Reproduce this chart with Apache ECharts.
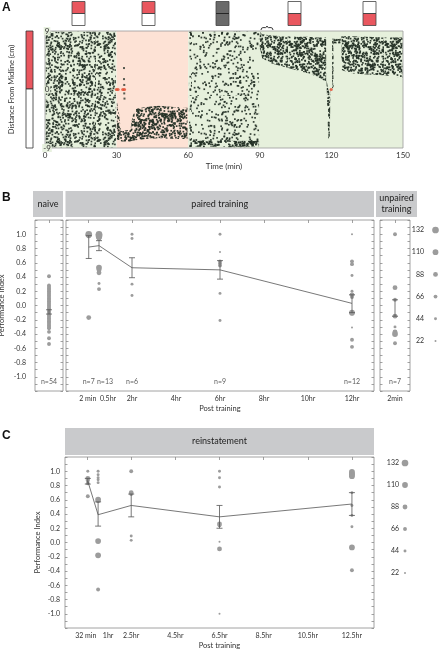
<!DOCTYPE html>
<html><head><meta charset="utf-8">
<script src="https://cdn.jsdelivr.net/npm/echarts@6/dist/echarts.min.js"></script>
<style>html,body{margin:0;padding:0;background:#fff}#c{width:442px;height:649px}</style>
</head><body><div id="c"></div><script>
// ================= DATA =================
// Panel A: fly position over time
const aPhases = [[0,30,'plain'],[30,60,'shock'],[60,150,'plain']];
// envelopes of the dense position cloud: [time (min), lowest cm, highest cm]
const aBandBaseline = [[0.3,-8.9,8.9],[29.7,-8.9,8.9]];
const aBandShock = [[30.1,-7.8,-1.8],[31.0,-7.9,-3.6],[31.8,-8.0,-6.4],[35.8,-8.0,-6.2],[36.6,-7.9,-4.2],[38,-7.8,-3.0],[42,-7.6,-2.7],[48,-7.5,-2.5],[54,-7.6,-2.7],[59.7,-7.6,-2.8]];
const aBandPost = [[60.3,-8.9,8.9],[89.7,-8.9,8.9]];
const aBandFloor = [[60.3,-8.8,-7.9],[89.5,-8.8,-7.9]];
const aBandCeiling = [[60.3,8.2,8.9],[89.5,8.2,8.9]];
const aBandTest1 = [[90.0,6.5,8.9],[91,4.8,8.5],[95,4.0,8.3],[100,3.5,8.2],[105,3.0,8.1],[110,2.5,8.1],[114,2.0,8.0],[117.8,1.2,8.0]];
const aBandDip = [[118.0,0.4,1.4],[118.7,-7.6,0.0],[119.3,-7.6,-0.6],[119.6,-0.2,0.4]];
const aBandRise = [[120.3,0.2,7.8],[120.9,0.2,7.8]];
const aBandHold = [[120.9,7.1,7.8],[124.0,7.1,7.8]];
const aBandTest2 = [[124.2,3.0,8.2],[128,2.5,8.2],[135,2.3,8.1],[142,2.2,8.0],[149.8,1.8,8.0]];
const aLoosePoints = [[33.1,3.3],[33.1,1.6],[33.2,0.7],[33.2,-0.6],[33.3,-1.4]];
const aRedPoints = [[29.9,0],[30.6,0],[32.6,0],[33.3,0],[119.9,0]];

// Panel B: performance index; points [hours post training, PI, flies]
const naiveValues = [0.41,0.28,0.26,0.24,0.22,0.2,0.18,0.16,0.14,0.12,0.1,0.08,0.06,0.04,0.02,0,-0.02,-0.04,-0.06,-0.08,-0.1,-0.12,-0.14,-0.16,-0.18,-0.2,-0.22,-0.24,-0.26,-0.28,-0.3,-0.32,-0.37,-0.46,-0.54];
const naiveFlies = 66;
const naiveMean = [[0,-0.09,-0.12,-0.06]]; // x, mean, lo, hi
const pairedPoints = [
 [0.033,1.0,132],[0.033,0.99,110],[0.033,0.97,66],[0.033,-0.17,88],
 [0.5,1.0,132],[0.5,0.98,132],[0.5,0.96,110],[0.5,0.94,88],[0.5,0.53,110],[0.5,0.5,88],[0.5,0.46,88],[0.5,0.31,44],[0.5,0.23,66],
 [2,1.0,44],[2,0.94,44],[2,0.3,44],[2,0.14,44],
 [6,1.0,44],[6,0.75,22],[6,0.62,66],[6,0.59,66],[6,0.56,66],[6,0.17,44],[6,-0.21,44],
 [12,1.0,22],[12,0.62,66],[12,0.58,66],[12,0.42,44],[12,0.2,44],[12,0.15,88],[12,0.12,66],[12,-0.1,110],[12,-0.11,88],[12,-0.31,22],[12,-0.48,66],[12,-0.58,66]
];
const pairedX = [0.033,0.5,2,6,12];
const pairedMean = [0.82,0.84,0.53,0.50,0.03];
const pairedLo = [0.66,0.77,0.39,0.37,-0.10];
const pairedHi = [0.98,0.91,0.67,0.63,0.15];
const pairedN = ['n=7','n=13','n=6','n=9','n=12'];
const bTickPos = [0.033,0.5,2,4,6,8,10,12];
const bTickText = ['2 min','0.5hr','2hr','4hr','6hr','8hr','10hr','12hr'];
const unpairedPoints = [[0,1.0,66],[0,0.25,88],[0,0.08,66],[0,-0.15,88],[0,-0.3,44],[0,-0.37,88],[0,-0.4,110],[0,-0.53,66]];
const unpairedMean = [[0,-0.04,-0.15,0.08]];
const naiveN = 'n=54', unpairedN = 'n=7';

// Panel C: reinstatement; points [hours, PI, flies]
const reinPoints = [
 [0.533,1.0,44],[0.533,0.9,88],[0.533,0.87,66],[0.533,0.83,66],[0.533,0.65,66],
 [1,1.0,44],[1,0.95,44],[1,0.91,44],[1,0.88,44],[1,0.84,44],[1,0.6,110],[1,0.58,66],[1,0.02,110],[1,-0.18,110],[1,-0.66,66],
 [2.5,1.0,66],[2.5,0.7,88],[2.5,0.68,66],[2.5,0.09,44],[2.5,0.03,44],
 [6.5,1.0,44],[6.5,0.91,44],[6.5,0.78,44],[6.5,0.26,88],[6.5,0.24,66],[6.5,0.01,22],[6.5,-0.09,88],[6.5,-1.0,22],
 [12.5,0.99,110],[12.5,0.97,110],[12.5,0.95,110],[12.5,0.93,110],[12.5,0.7,44],[12.5,0.52,44],[12.5,0.38,44],[12.5,0.22,44],[12.5,-0.07,110],[12.5,-0.39,66]
];
const reinX = [0.533,1,2.5,6.5,12.5];
const reinMean = [0.86,0.39,0.52,0.36,0.54];
const reinLo = [0.82,0.23,0.36,0.20,0.38];
const reinHi = [0.90,0.57,0.68,0.52,0.70];
const cTickPos = [0.533,1,2.5,4.5,6.5,8.5,10.5,12.5];
const cTickText = ['32 min','1hr','2.5hr','4.5hr','6.5hr','8.5hr','10.5hr','12.5hr'];
const sizeLegend = [132,110,88,66,44,22];

// ================= STYLE =================
const FONT = 'Lato, "Open Sans", sans-serif';
const FS = 7;
const DOT = '#9c9c9c', INK = '#333', FRAME = '#8a8a8a', BAR = '#555';
const PHASE_COLORS = {plain:'#e6f0dc', shock:'#fde2d5'};
const RED = '#e9575f';
const sz = n => 2 + (n - 22) * 0.0427;

// dotted texture used to fill the position envelopes (style only)
function makePattern(count, color){
  const W = 96, H = 96, c = document.createElement('canvas');
  c.width = W; c.height = H;
  const ctx = c.getContext('2d'); ctx.fillStyle = color;
  const fr = v => v - Math.floor(v);
  for (let i = 1; i <= count; i++) {
    const x = fr(Math.sin(i * 12.9898) * 43758.5453) * W;
    const y = fr(Math.sin(i * 78.233 + 1.7) * 24634.6345) * H;
    ctx.fillRect(x, y, 1.7, 1.7);
  }
  return {image: c, repeat: 'repeat'};
}
const PAT = {
  mid: makePattern(1500, 'rgba(36,48,38,0.92)'),
  sparse: makePattern(620, 'rgba(36,48,38,0.92)'),
  dense: makePattern(2300, 'rgba(36,48,38,0.95)')
};

function bandSeries(band, density){
  return {type:'custom', xAxisIndex:0, yAxisIndex:0, z:3, silent:true, data:band,
    encode:{x:0, y:[1,2]},
    renderItem:(p, api) => {
      if (p.dataIndex !== 0) return;
      const top = band.map(r => api.coord([r[0], r[2]]));
      const bot = band.slice().reverse().map(r => api.coord([r[0], r[1]]));
      return {type:'polygon', shape:{points: top.concat(bot)}, style:{fill: PAT[density]}};
    }};
}
function errSeries(xi, yi, rows){
  return {type:'custom', xAxisIndex:xi, yAxisIndex:yi, z:6, silent:true, data:rows,
    encode:{x:0, y:[2,3]},
    renderItem:(p, api) => {
      const x = api.value(0), lo = api.value(2), hi = api.value(3), w = 3;
      const a = api.coord([x, hi]), b = api.coord([x, lo]);
      const st = {stroke:BAR, lineWidth:0.8};
      return {type:'group', children:[
        {type:'line', shape:{x1:a[0],y1:a[1],x2:b[0],y2:b[1]}, style:st},
        {type:'line', shape:{x1:a[0]-w,y1:a[1],x2:a[0]+w,y2:a[1]}, style:st},
        {type:'line', shape:{x1:b[0]-w,y1:b[1],x2:b[0]+w,y2:b[1]}, style:st}]};
    }};
}
function dotSeries(xi, yi, pts){
  return {type:'scatter', xAxisIndex:xi, yAxisIndex:yi, z:4, silent:true, data:pts,
    symbolSize: v => sz(v[2]), itemStyle:{color:DOT, opacity:1}};
}
function labelSeries(xi, yi, items){
  return {type:'scatter', xAxisIndex:xi, yAxisIndex:yi, z:7, silent:true, symbolSize:1,
    itemStyle:{color:'rgba(0,0,0,0)'}, data: items,
    label:{show:true, position:'inside', formatter:'{b}', fontSize:FS, color:INK, fontFamily:FONT}};
}
function piY(grid, pos, show, margin, name, nameGap){
  return {type:'value', gridIndex:grid, position:pos, min:-1.2, max:1.2, interval:0.2,
    axisLine:{show:false, onZero:false}, splitLine:{show:false},
    axisTick:{show:true, inside:true, length:2.5, lineStyle:{color:FRAME, width:0.8}},
    minorTick:{show:true, splitNumber:2, length:2.5, lineStyle:{color:FRAME, width:0.8}},
    axisLabel:{show:show, margin:margin, fontSize:FS, color:INK, fontFamily:FONT,
      formatter: v => Math.abs(v) > 1.05 ? '' : (Math.abs(v) < 1e-6 ? '0.0' : v.toFixed(1))},
    name: name || '', nameLocation:'middle', nameRotate:90, nameGap: nameGap || 0, nameMoveOverlap:false,
    nameTextStyle:{fontSize:7.5, color:INK, fontFamily:FONT}};
}
function topTicks(grid, min, max, vals){
  return {type:'value', gridIndex:grid, position:'top', min:min, max:max,
    axisLine:{show:false, onZero:false}, splitLine:{show:false}, axisLabel:{show:false},
    axisTick:{show:true, inside:true, length:3, customValues:vals, lineStyle:{color:FRAME, width:0.8}}};
}
function shifted(text, idx, shifts){
  const s = shifts[idx] || 0;
  if (!s) return text;
  return '{' + (s > 0 ? 'r' : 'l') + Math.abs(s) + '|' + text + '}';
}
function richFor(list){
  const r = {};
  list.forEach(s => { const k = (s > 0 ? 'r' : 'l') + Math.abs(s);
    r[k] = {fontSize:FS, color:INK, fontFamily:FONT, padding: s > 0 ? [0,0,0,2*s] : [0,-2*s,0,0]}; });
  return r;
}
const bShift = [-1,9,0,0,0,0,0,0];
const cShift = [-2,10,0,0,0,0,0,0];
function bottomLabels(grid, min, max, pos, text, shifts, name){
  return {type:'value', gridIndex:grid, position:'bottom', min:min, max:max,
    axisLine:{show:false, onZero:false}, splitLine:{show:false}, axisTick:{show:false},
    axisLabel:{show:true, customValues:pos, hideOverlap:false, margin:4, fontSize:FS, color:INK, fontFamily:FONT,
      formatter: v => { let i = pos.findIndex(p => Math.abs(p - v) < 1e-6); return i < 0 ? '' : shifted(text[i], i, shifts); },
      rich: richFor(shifts.filter(s => s))},
    name: name || '', nameLocation:'middle', nameGap:14, nameTextStyle:{fontSize:7.5, color:INK, fontFamily:FONT}};
}
const gridBase = {show:true, borderColor:FRAME, borderWidth:0.8, backgroundColor:'transparent', containLabel:false, outerBoundsMode:'none', z:10};

const option = {
  animation:false,
  grid:[
    Object.assign({}, gridBase, {left:45, top:31, width:358, height:117, borderColor:'#9a9a9a'}),
    Object.assign({}, gridBase, {left:35, top:220, width:28, height:171}),
    Object.assign({}, gridBase, {left:66, top:220, width:308, height:171}),
    Object.assign({}, gridBase, {left:380, top:220, width:30, height:171}),
    Object.assign({}, gridBase, {left:65, top:457, width:309, height:171})
  ],
  xAxis:[
    {type:'value', gridIndex:0, min:0, max:150, interval:30, axisLine:{show:false, onZero:false}, axisTick:{show:false}, splitLine:{show:false},
     axisLabel:{fontSize:8, color:INK, margin:3, fontFamily:FONT}, name:'Time (min)', nameLocation:'middle', nameGap:14,
     nameTextStyle:{fontSize:8, color:INK, fontFamily:FONT}},
    topTicks(1, -1, 1, [0]),                                              // 1 naive
    bottomLabels(2, -1, 13, bTickPos, bTickText, bShift, 'Post training'), // 2 paired
    topTicks(2, -1, 13, [0,2,4,6,8,10,12]),                               // 3 paired top
    bottomLabels(3, -1, 1, [0], ['2min'], [0], ''),                        // 4 unpaired
    topTicks(3, -1, 1, [0]),                                              // 5 unpaired top
    bottomLabels(4, -0.5, 13.5, cTickPos, cTickText, cShift, 'Post training'), // 6 reinstatement
    topTicks(4, -0.5, 13.5, [0.5,2.5,4.5,6.5,8.5,10.5,12.5])              // 7 reinstatement top
  ],
  yAxis:[
    {type:'value', gridIndex:0, min:-9, max:9, interval:9, z:20, axisLine:{show:false, onZero:false}, axisTick:{show:false}, splitLine:{show:false},
     axisLabel:{fontSize:8, color:INK, margin:-2, align:'center', fontFamily:FONT, backgroundColor:'rgba(230,240,220,0.9)', padding:[0,1]},
     name:'Distance From Midline (cm)', nameLocation:'middle', nameRotate:90, nameGap:29, nameMoveOverlap:false,
     nameTextStyle:{fontSize:7.5, color:INK, fontFamily:FONT}},
    piY(1, 'left', true, 9, 'Performance Index', 29.5),  // 1
    piY(1, 'right', false, 0),                            // 2
    piY(2, 'left', false, 0),                             // 3
    piY(2, 'right', false, 0),                            // 4
    piY(3, 'left', false, 0),                             // 5
    piY(3, 'right', false, 0),                            // 6
    piY(4, 'left', true, 5, 'Performance Index', 23),     // 7
    piY(4, 'right', false, 0)                             // 8
  ],
  series:[
    {type:'custom', xAxisIndex:0, yAxisIndex:0, z:1, silent:true, data: aPhases.map(r => [r[0], r[1]]),
     renderItem:(p, api) => {
       const a = api.coord([api.value(0), 9]), b = api.coord([api.value(1), -9]);
       return {type:'rect', shape:{x:a[0], y:a[1], width:b[0]-a[0], height:b[1]-a[1]},
         style:{fill: PHASE_COLORS[aPhases[p.dataIndex][2]]}};
     }},
    bandSeries(aBandBaseline, 'mid'),
    bandSeries(aBandShock, 'dense'),
    bandSeries(aBandPost, 'sparse'),
    bandSeries(aBandFloor, 'dense'),
    bandSeries(aBandCeiling, 'sparse'),
    bandSeries(aBandTest1, 'dense'),
    bandSeries(aBandDip, 'dense'),
    bandSeries(aBandRise, 'dense'),
    bandSeries(aBandHold, 'dense'),
    bandSeries(aBandTest2, 'dense'),
    {type:'scatter', xAxisIndex:0, yAxisIndex:0, z:4, silent:true, data:aLoosePoints, symbol:'rect', symbolSize:2, itemStyle:{color:'#2c3a2f'}},
    {type:'scatter', xAxisIndex:0, yAxisIndex:0, z:5, silent:true, data:aRedPoints, symbol:'circle', symbolSize:3.2, itemStyle:{color:'#e2482d'}},

    // naive
    dotSeries(1, 1, naiveValues.map(v => [0, v, naiveFlies])),
    errSeries(1, 1, naiveMean),
    labelSeries(1, 1, [{name:naiveN, value:[0,-1.07]}]),
    // paired
    dotSeries(2, 3, pairedPoints),
    {type:'line', xAxisIndex:2, yAxisIndex:3, z:5, silent:true, symbol:'none',
     data: pairedX.map((x, i) => [x, pairedMean[i]]), lineStyle:{color:BAR, width:0.8}},
    errSeries(2, 3, pairedX.map((x, i) => [x, pairedMean[i], pairedLo[i], pairedHi[i]])),
    labelSeries(2, 3, pairedX.map((x, i) => (i === 1 ? {name:pairedN[i], value:[x, -1.07], label:{offset:[6,0]}} : {name:pairedN[i], value:[x, -1.07]}))),
    // unpaired
    dotSeries(4, 5, unpairedPoints),
    errSeries(4, 5, unpairedMean),
    labelSeries(4, 5, [{name:unpairedN, value:[0,-1.07]}]),
    // reinstatement
    dotSeries(6, 7, reinPoints),
    {type:'line', xAxisIndex:6, yAxisIndex:7, z:5, silent:true, symbol:'none',
     data: reinX.map((x, i) => [x, reinMean[i]]), lineStyle:{color:BAR, width:0.8}},
    errSeries(6, 7, reinX.map((x, i) => [x, reinMean[i], reinLo[i], reinHi[i]]))
  ],
  graphic:[]
};

// ---- annotation graphics ----
const G = option.graphic;
const letter = (t, x, y) => G.push({type:'text', x, y, style:{text:t, font:'bold 12px "Liberation Sans", Arial, sans-serif', fill:'#111'}});
letter('A', 2, 2); letter('B', 2, 192); letter('C', 2, 430);
// colour bar
G.push({type:'rect', shape:{x:26, y:31, width:7, height:58}, style:{fill:RED, stroke:'#333', lineWidth:0.8}});
G.push({type:'rect', shape:{x:26, y:89, width:7, height:59}, style:{fill:'#fff', stroke:'#333', lineWidth:0.8}});
// chamber icons
const icons = [[72,'redTop'],[142,'redTop'],[216,'gray'],[288,'redBottom'],[363,'redBottom']];
icons.forEach(([x, k]) => {
  const top = k === 'redTop' ? RED : (k === 'gray' ? '#6a6a6a' : '#fff');
  const bot = k === 'redBottom' ? RED : (k === 'gray' ? '#6a6a6a' : '#fff');
  G.push({type:'rect', shape:{x, y:1.5, width:13, height:12}, style:{fill:top, stroke:'#444', lineWidth:0.8}});
  G.push({type:'rect', shape:{x, y:13.5, width:13, height:12}, style:{fill:bot, stroke:'#444', lineWidth:0.8}});
  G.push({type:'line', shape:{x1:x, y1:13.5, x2:x+13, y2:13.5}, style:{stroke: k === 'gray' ? '#222' : '#444', lineWidth:0.9}});
});
// brace
G.push({type:'polyline', shape:{points:[[261,30],[261.6,28.2],[263,27.6],[265.6,27.6],[266.6,27],[267,26],[267.4,27],[268.4,27.6],[271,27.6],[272.4,28.2],[273,30]]},
  style:{fill:'none', stroke:'#222', lineWidth:0.9}});
// headers
const header = (x, y, w, h, t, lh) => {
  G.push({type:'rect', shape:{x, y, width:w, height:h}, style:{fill:'#c9cacc'}});
  G.push({type:'text', x:x + w/2, y:y + h/2, style:{text:t, fontSize:9, fontFamily:FONT, fill:'#222', align:'center', verticalAlign:'middle', lineHeight: lh || 11}});
};
header(33, 191, 30, 26, 'naive');
header(65.5, 191, 308.5, 26, 'paired training');
header(376, 191, 41, 26, 'unpaired\ntraining', 11);
header(65, 428, 309, 27, 'reinstatement');
// size legends
const legendB = {labelX:424, dotX:435.5, y0:230, step:22.2};
const legendC = {labelX:399, dotX:405, y0:463, step:22};
[legendB, legendC].forEach(L => sizeLegend.forEach((n, i) => {
  const y = L.y0 + i * L.step;
  G.push({type:'text', x:L.labelX, y, style:{text:String(n), fontSize:FS, fontFamily:FONT, fill:INK, align:'right', verticalAlign:'middle'}});
  G.push({type:'circle', shape:{cx:L.dotX, cy:y, r:sz(n)/2}, style:{fill:DOT}});
}));

const chart = echarts.init(document.getElementById('c'), null, {renderer:'canvas'});
chart.setOption(option);
</script></body></html>
